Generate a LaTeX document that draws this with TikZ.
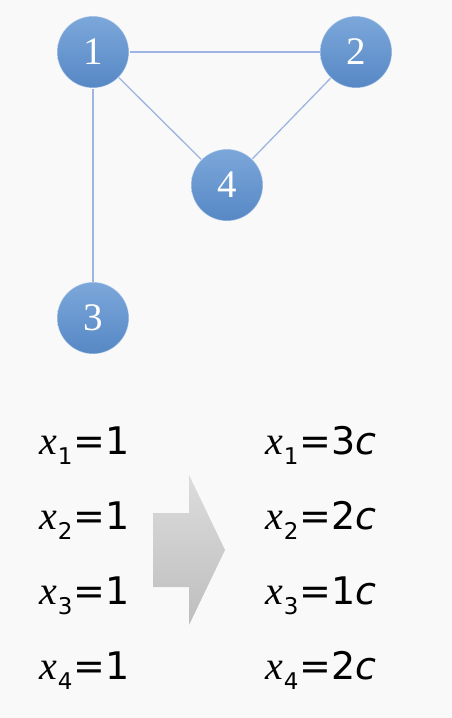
\documentclass[tikz,border=0pt]{standalone}
\usepackage{fontspec}
\setmainfont{DejaVu Sans}
\newfontfamily\numfont{Liberation Serif}
\usepackage{tikz}
\usepackage{color}

\definecolor{bgcol}{RGB}{249,249,249}
\definecolor{nodetop}{RGB}{124,167,218}
\definecolor{nodebot}{RGB}{86,136,197}
\definecolor{edgecol}{RGB}{158,181,226}
\definecolor{arrtop}{RGB}{220,220,220}
\definecolor{arrbot}{RGB}{190,190,190}

% x with a subscript index
\newcommand{\xsub}[1]{{\fontsize{40}{40}\selectfont\numfont\itshape x}\kern1pt\raisebox{-10pt}{\fontsize{23}{23}\selectfont #1}\kern1pt}

\begin{document}
\begin{tikzpicture}[%
      x=1pt, y=-1pt,
      vertex/.style={circle, minimum size=72pt, inner sep=0pt,
        top color=nodetop, bottom color=nodebot,
        draw=white, draw opacity=0.5, line width=1pt,
        text=white, font=\fontsize{39}{39}\selectfont\numfont},
      edge/.style={color=edgecol, line width=1.3pt},
      eqn/.style={anchor=base west, inner sep=0pt,
        font=\fontsize{38}{40}\selectfont},
      ]
      \fill [bgcol] (0,0) rectangle (452,718);

      \node [vertex] (v1) at (93,52) {1};
      \node [vertex] (v2) at (356,52) {2};
      \node [vertex] (v3) at (93,318) {3};
      \node [vertex] (v4) at (227,185) {4};

      \draw [edge] (v1) -- (v2);
      \draw [edge] (v1) -- (v4);
      \draw [edge] (v2) -- (v4);
      \draw [edge] (v1) -- (v3);

      \node [eqn] (a1) at (39,454) {\xsub{1}=1};
      \node [eqn] (a2) at (39,529) {\xsub{2}=1};
      \node [eqn] (a3) at (39,604) {\xsub{3}=1};
      \node [eqn] (a4) at (39,679) {\xsub{4}=1};

      \shade [top color=arrtop, bottom color=arrbot]
        (153,513) -- (189,513) -- (189,475) -- (225,550)
        -- (189,625) -- (189,587) -- (153,587) -- cycle;

      \node [eqn] (b1) at (265,454) {\xsub{1}=3\textit{c}};
      \node [eqn] (b2) at (265,529) {\xsub{2}=2\textit{c}};
      \node [eqn] (b3) at (265,604) {\xsub{3}=1\textit{c}};
      \node [eqn] (b4) at (265,679) {\xsub{4}=2\textit{c}};
\end{tikzpicture}
\end{document}
